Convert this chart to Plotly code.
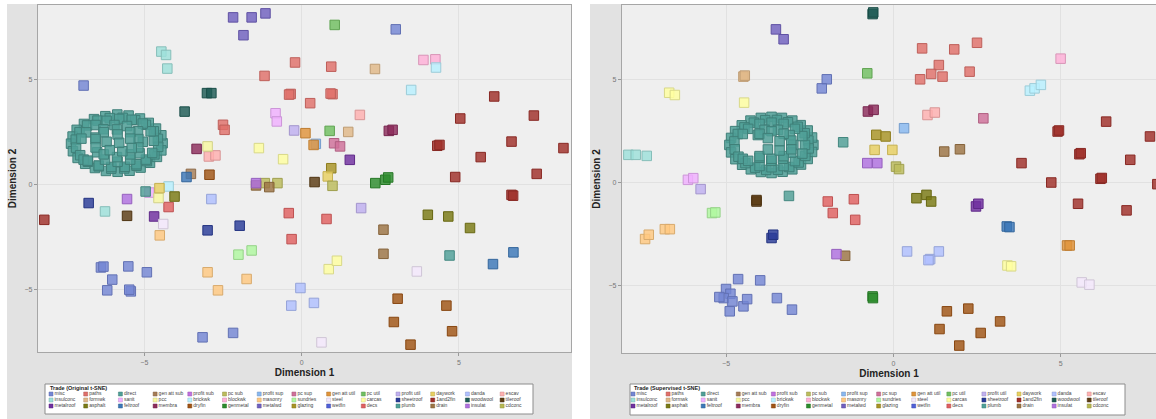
import plotly.graph_objects as go

W, H = 1156, 419

# ---------------- categories (legend order: 3 rows x 14 columns) ----------------
trades = [
    "misc", "paths", "direct", "gen att sub", "profit sub", "pc sub", "profit sup",
    "pc sup", "gen att util", "pc util", "profit util", "daywork", "danda", "escav",
    "insulconc", "formwk", "sanit", "pcc", "brickwk", "blockwk", "masonry",
    "sundries", "steel", "carcas", "sheetroof", "1and2fin", "woodwool", "tileroof",
    "metalroof", "asphalt", "feltroof", "membra", "dryfin", "genmetal", "metalwd",
    "glazing", "wetfin", "decs", "plumb", "drain", "insulat", "cdconc",
]
trade_colors = [
    "#7486d4", "#e0706a", "#4f9f96", "#a57c55", "#c070e0", "#bcbc5c", "#88b8f0",
    "#d0709a", "#e0943a", "#70c060", "#c0b0f0", "#e8d060", "#b0c0ff", "#ffb0b0",
    "#9ee0da", "#e0b888", "#f0b0ff", "#f8f8a0", "#b8f0ff", "#ffb0d8", "#ffc880",
    "#b0f8a0", "#f4e8fc", "#ffffa0", "#2a3c98", "#a0302a", "#1e5c55", "#5c3c14",
    "#7030a0", "#7a7a14", "#3c78b8", "#8c2c5c", "#a05414", "#2c8c2c", "#7060c0",
    "#a89424", "#5060d8", "#e06060", "#4fa098", "#9c7444", "#b070e0", "#b8b850",
]

# ---------------- Original t-SNE ----------------
orig_groups = [
    "metalwd", "pc util", "misc", "insulconc", "paths", "decs", "formwk", "blockwk",
    "brickwk", "woodwool", "1and2fin", "sanit", "escav", "profit util", "profit sup",
    "gen att util", "membra", "pc sup", "metalroof", "pcc", "carcas", "glazing",
    "daywork", "pc sub", "gen att sub", "feltroof", "dryfin", "tileroof", "genmetal",
    "drain", "insulat", "direct", "asphalt", "danda", "sheetroof", "steel", "masonry",
    "sundries", "plumb",
]
orig_x = [
    [-2.18, -1.59, -1.15, -1.85],
    [1.05, 0.89],
    [2.99, -6.93, -6.38, -5.51, -4.92, -6.02, -6.18, -5.43, -3.15, -2.18, -6.30, -5.48],
    [-4.46, -4.31, -4.27, -6.25],
    [-0.21, 0.94, -1.18, -0.35, 0.98, 0.27, -2.50, -2.45, 0.92, -0.40],
    [-4.23, -0.41, 0.79, -0.32],
    [2.33, 1.48],
    [3.87, 4.25],
    [4.27, 3.48, -4.23],
    [-3.01, -2.87, -3.72],
    [6.12, 5.04, 7.38, 4.31, 6.67, 5.69, 8.32, 7.47, 4.88, 6.67, -8.18, 4.38, 6.72],
    [-0.83, -0.79, -4.84],
    [1.85, -2.95, -2.74],
    [-0.24, 1.89],
    [0.45],
    [0.12, 0.38],
    [2.77, 2.89, -3.34],
    [1.03, 1.22],
    [1.53, -4.69],
    [-2.99, -4.55],
    [-1.36, -0.59, 0.86, 1.12],
    [0.94],
    [0.83, -4.52],
    [0.98, -1.17, -0.77],
    [-3.52],
    [-3.66, 6.08, 6.73],
    [-2.93, 3.05, 4.60, 2.93, 4.78, 3.46],
    [0.41, -5.55],
    [2.34, 2.66, 2.75],
    [-1.45, -1.03, 2.60, 2.60],
    [-1.45, -5.55],
    [-4.96],
    [-4.04, 4.01, 4.66, 5.35],
    [-2.87, -0.04, -0.33, 0.39],
    [-6.77, -2.99, -1.97],
    [-4.40, 3.66, 0.63],
    [-4.51, -2.99, -1.75, -2.66],
    [-2.01, -1.59],
    [4.70],
]
orig_y = [
    [7.98, 7.98, 8.17, 7.13],
    [7.62, 2.57],
    [7.41, 4.73, -3.94, -3.89, -4.17, -4.52, -5.03, -5.08, -7.27, -7.06, -3.90, -5.00],
    [6.35, 6.19, 5.54, -1.27],
    [5.83, 5.63, 5.19, 4.33, 4.32, 3.89, 2.86, 2.62, 4.35, 4.30],
    [-1.06, -1.35, -1.63, -2.59],
    [5.52, 2.52],
    [5.95, 5.98],
    [5.59, 4.52, -0.08],
    [4.37, 4.37, 3.49],
    [4.21, 3.16, 3.30, 1.86, 2.06, 1.32, 1.75, 0.52, 0.37, -0.48, -1.67, 1.90, -0.52],
    [3.41, 3.02, -0.37],
    [3.33, 1.35, 1.40],
    [2.59, -1.11],
    [1.95],
    [2.46, 1.90],
    [2.57, 2.62, 1.71],
    [1.98, 1.83],
    [1.19, -1.51],
    [1.83, -0.63],
    [1.75, 1.22, -4.02, -3.62],
    [0.79],
    [0.40, -0.16],
    [-0.05, 0.08, 0.08],
    [0.52],
    [0.37, -3.78, -3.22],
    [0.48, -5.43, -5.76, -6.54, -6.98, -7.62],
    [0.13, -1.48],
    [0.08, 0.24, 0.35],
    [-0.03, -0.11, -2.14, -3.29],
    [0.08, -0.68],
    [-0.32],
    [-0.56, -1.43, -1.51, -2.06],
    [-0.68, -4.92, -5.76, -5.63],
    [-0.87, -2.17, -1.95],
    [-1.87, -4.13, -7.51],
    [-2.41, -4.17, -4.49, -5.03],
    [-3.33, -3.13],
    [-3.37],
]
# dense "direct" cluster, original t-SNE
orig_cluster_x = [
    -4.42, -4.46, -4.63, -4.86, -5.14, -5.50, -5.86, -6.24, -6.60, -6.92, -7.15, -7.28,
    -7.33, -7.27, -7.12, -6.88, -6.57, -6.22, -5.85, -5.47, -5.12, -4.82, -4.60, -4.46,
    -4.57, -4.70, -4.95, -5.29, -5.69, -6.10, -6.49, -6.82, -7.06, -7.18, -7.17, -7.04,
    -6.79, -6.45, -6.05, -5.64, -5.25, -4.92, -4.68, -4.56,
    -4.70, -4.80, -5.05, -5.40, -5.80, -6.20, -6.55, -6.85, -7.00, -6.93, -6.80, -6.45,
    -6.05, -5.62, -5.25, -4.95, -4.75,
    -5.05, -5.20, -5.55, -5.95, -6.30, -6.55, -6.50, -6.25, -5.85, -5.45, -5.15,
    -5.19, -5.45, -5.87, -6.29, -6.55, -6.55, -6.29, -5.87, -5.45, -5.19,
    -5.45, -5.85, -6.20, -6.10, -5.70, -5.40, -5.80,
]
orig_cluster_y = [
    1.98, 2.36, 2.68, 2.95, 3.16, 3.30, 3.35, 3.27, 3.13, 2.90, 2.62, 2.30,
    1.96, 1.60, 1.28, 1.00, 0.80, 0.66, 0.62, 0.67, 0.82, 1.05, 1.33, 1.64,
    2.19, 2.55, 2.86, 3.08, 3.19, 3.18, 3.06, 2.83, 2.51, 2.15, 1.77, 1.41,
    1.10, 0.88, 0.77, 0.78, 0.91, 1.13, 1.45, 1.81,
    2.10, 2.55, 2.92, 3.10, 3.14, 3.05, 2.85, 2.50, 2.20, 1.20, 1.15, 0.92,
    0.85, 0.86, 0.98, 1.20, 1.52,
    2.05, 2.55, 2.80, 2.85, 2.65, 2.25, 1.55, 1.20, 1.10, 1.20, 1.50,
    2.18, 2.51, 2.64, 2.51, 2.18, 1.78, 1.45, 1.32, 1.45, 1.78,
    2.20, 2.40, 2.05, 1.65, 1.60, 1.75, 2.00,
]

# ---------------- Supervised t-SNE ----------------
sup_groups = [
    "woodwool", "metalwd", "paths", "decs", "formwk", "misc", "pc util", "carcas",
    "blockwk", "brickwk", "membra", "escav", "pc sup", "profit sup", "glazing",
    "direct", "daywork", "drain", "insulat", "pc sub", "insulconc", "sanit",
    "profit util", "1and2fin", "tileroof", "sundries", "asphalt", "metalroof",
    "masonry", "sheetroof", "feltroof", "danda", "gen att util", "steel", "genmetal",
    "dryfin",
]
sup_x = [
    [-0.62, -0.60],
    [-3.51, -3.28],
    [0.86, 1.82, 2.50, 1.36, 1.13, 1.47, 0.80, 2.28],
    [-1.96, -1.18, -1.81, -1.14],
    [-4.48, -4.44],
    [-1.99, -2.14, -4.64, -3.98, -5.00, -4.87, -5.07, -5.20, -4.81, -4.89, -4.48, -4.37, -3.48, -3.03],
    [-0.78],
    [-6.70, -6.53, -4.46, 3.41, 3.52],
    [5.00],
    [4.08, 4.22, 4.41],
    [-0.76, -0.59],
    [1.02, 1.24],
    [2.69],
    [0.32],
    [-0.51, -0.23],
    [-1.50, -3.12],
    [-0.56, -0.03],
    [1.52, 1.99, -1.44],
    [-0.78, -0.48, -1.70],
    [0.08, 0.17],
    [-7.92, -7.70, -7.37],
    [-6.14, -5.98],
    [-5.76],
    [4.91, 6.36, 7.67, 5.56, 7.08, 3.83, 4.72, 6.19, 7.89, 5.52, 6.97, 4.95, 5.60, 6.23],
    [-4.09, -4.09],
    [-5.42, -5.32],
    [0.69, 0.99, 1.13],
    [2.47, 2.54],
    [-7.42, -7.31, -6.83, -6.68],
    [-3.64, -3.59],
    [3.39, 3.47],
    [0.41, 1.10, 1.36, 1.05],
    [5.19, 5.27],
    [5.63, 5.86],
    [-0.62, -0.61],
    [1.60, 2.24, 3.19, 1.38, 2.61, 1.97],
]
sup_y = [
    [8.16, 8.24],
    [7.42, 6.94],
    [6.50, 6.45, 6.77, 5.69, 5.26, 5.13, 5.00, 5.37],
    [-0.92, -0.81, -1.48, -1.81],
    [5.13, 5.18],
    [5.00, 4.56, -4.68, -4.74, -5.16, -5.39, -5.60, -5.55, -5.76, -6.24, -6.00, -5.65, -5.60, -6.16],
    [5.29],
    [4.35, 4.24, 3.87, -4.02, -4.06],
    [6.00],
    [4.45, 4.56, 4.73],
    [3.44, 3.52],
    [3.27, 3.39],
    [3.11],
    [2.63],
    [2.31, 2.23],
    [1.95, -0.65],
    [1.58, 1.58],
    [1.50, 1.61, -3.55],
    [0.94, 0.94, -3.47],
    [0.77, 0.65],
    [1.34, 1.34, 1.29],
    [0.13, 0.21],
    [-0.32],
    [2.47, 2.95, 2.23, 1.37, 1.10, 0.94, 0.00, 0.18, -0.08, -1.03, -1.35, 2.52, 1.42, 0.22],
    [-0.92, -0.85],
    [-1.48, -1.45],
    [-0.76, -0.60, -0.92],
    [-1.16, -1.03],
    [-2.74, -2.53, -2.26, -2.26],
    [-2.69, -2.53],
    [-2.13, -2.16],
    [-3.34, -3.71, -3.34, -3.76],
    [-3.05, -3.05],
    [-4.84, -4.95],
    [-5.52, -5.60],
    [-6.24, -6.11, -6.73, -7.10, -7.29, -7.90],
]
sup_cluster_x = [
    -2.39, -2.43, -2.56, -2.77, -3.02, -3.33, -3.64, -3.96, -4.27, -4.53, -4.73, -4.85,
    -4.90, -4.85, -4.72, -4.52, -4.26, -3.96, -3.64, -3.31, -3.02, -2.76, -2.56, -2.43,
    -2.54, -2.65, -2.86, -3.15, -3.48, -3.83, -4.17, -4.45, -4.65, -4.75, -4.74, -4.63,
    -4.42, -4.13, -3.80, -3.45, -3.11, -2.83, -2.63, -2.53,
    -2.64, -2.72, -2.94, -3.28, -3.64, -4.00, -4.34, -4.50, -4.50, -4.34, -4.00, -3.64,
    -3.28, -2.94, -2.72,
    -2.99, -3.10, -3.45, -3.85, -4.05, -4.00, -3.65, -3.30, -3.05,
    -3.05, -3.28, -3.64, -4.00, -3.28, -3.64, -4.00, -3.05,
    -3.40, -3.75, -3.75, -3.40,
]
sup_cluster_y = [
    1.82, 2.18, 2.52, 2.78, 3.00, 3.13, 3.18, 3.13, 3.00, 2.77, 2.49, 2.16,
    1.82, 1.46, 1.13, 0.86, 0.64, 0.51, 0.46, 0.52, 0.64, 0.87, 1.14, 1.48,
    2.03, 2.39, 2.70, 2.92, 3.03, 3.02, 2.90, 2.67, 2.35, 1.99, 1.61, 1.25,
    0.94, 0.72, 0.61, 0.62, 0.75, 0.97, 1.29, 1.65,
    1.82, 2.25, 2.60, 2.84, 2.90, 2.84, 2.60, 2.35, 1.15, 1.05, 0.80, 0.74,
    0.80, 1.04, 1.40,
    1.82, 2.30, 2.55, 2.55, 2.30, 1.20, 1.05, 1.15, 1.45,
    2.03, 2.36, 2.49, 2.36, 1.28, 1.15, 1.28, 1.61,
    2.00, 2.15, 1.60, 1.55,
]

color_of = dict(zip(trades, trade_colors))


def rgba(hexc, a):
    h = hexc.lstrip("#")
    r, g, b = int(h[0:2], 16), int(h[2:4], 16), int(h[4:6], 16)
    return f"rgba({r},{g},{b},{a})"


def darker(hexc, f=0.8):
    h = hexc.lstrip("#")
    r, g, b = (int(h[i:i + 2], 16) for i in (0, 2, 4))
    return f"rgb({int(r * f)},{int(g * f)},{int(b * f)})"


fig = go.Figure()


def add_points(groups, xs, ys, cx, cy, xa, ya):
    c = color_of["direct"]
    fig.add_trace(go.Scatter(
        x=cx, y=cy, mode="markers", xaxis=xa, yaxis=ya, showlegend=False,
        name="direct", hoverinfo="x+y+name",
        marker=dict(symbol="square", size=9.5, color=rgba(c, 0.85),
                    line=dict(color=darker(c, 0.8), width=1)),
    ))
    for g, gx, gy in zip(groups, xs, ys):
        c = color_of[g]
        fig.add_trace(go.Scatter(
            x=gx, y=gy, mode="markers", xaxis=xa, yaxis=ya, showlegend=False,
            name=g, hoverinfo="x+y+name",
            marker=dict(symbol="square", size=9.5, color=rgba(c, 0.82),
                        line=dict(color=darker(c, 0.85), width=1)),
        ))


add_points(orig_groups, orig_x, orig_y, orig_cluster_x, orig_cluster_y, "x", "y")
add_points(sup_groups, sup_x, sup_y, sup_cluster_x, sup_cluster_y, "x2", "y2")

# legend grids drawn as scatter on hidden axes
ncol = 14
leg_col = [i % ncol for i in range(len(trades))]
leg_row = [i // ncol for i in range(len(trades))]
for xa, ya in (("x3", "y3"), ("x4", "y4")):
    fig.add_trace(go.Scatter(
        x=leg_col, y=leg_row, mode="markers+text", xaxis=xa, yaxis=ya,
        text=trades, textposition="middle right", showlegend=False, hoverinfo="text",
        textfont=dict(family="Liberation Sans, Arial, sans-serif", size=5, color="#444"),
        marker=dict(symbol="square", size=4, color=trade_colors,
                    line=dict(color=[darker(c, 0.8) for c in trade_colors], width=0.5)),
    ))

FONT = "Liberation Sans, Arial, sans-serif"


def dom_x(a, b):
    return [a / W, b / W]


def dom_y(top, bottom):
    return [1 - bottom / H, 1 - top / H]


axis_common = dict(
    tickvals=[-5, 0, 5], ticks="outside", ticklen=3, tickcolor="#999",
    tickfont=dict(family=FONT, size=7, color="#777"),
    showgrid=True, gridcolor="#e1e1e1", gridwidth=1, zeroline=False,
    showline=True, linecolor="#a6a6a6", linewidth=1.2,
)
title_font = dict(family=FONT, size=10, color="#222")

layout = dict(
    width=W, height=H, margin=dict(l=0, r=0, t=0, b=0),
    paper_bgcolor="#e2e2e2", plot_bgcolor="#efefef",
    xaxis=dict(domain=dom_x(38, 571), range=[-8.38, 8.56], mirror=True,
               title=dict(text="<b>Dimension 1</b>", font=title_font, standoff=4), **axis_common),
    yaxis=dict(domain=dom_y(5, 352), range=[-7.97, 8.57], mirror=True,
               title=dict(text="<b>Dimension 2</b>", font=title_font, standoff=6), **axis_common),
    xaxis2=dict(domain=dom_x(622, 1156), range=[-8.11, 7.85], mirror=True, anchor="y2",
                title=dict(text="<b>Dimension 1</b>", font=title_font, standoff=4), **axis_common),
    yaxis2=dict(domain=dom_y(5, 353), range=[-8.26, 8.6], anchor="x2",
                title=dict(text="<b>Dimension 2</b>", font=title_font, standoff=6), **axis_common),
    xaxis3=dict(domain=dom_x(45, 533), range=[-0.173, 13.89], visible=False, anchor="y3"),
    yaxis3=dict(domain=dom_y(384, 414), range=[3.333, -1.667], visible=False, anchor="x3"),
    xaxis4=dict(domain=dom_x(630, 1125), range=[-0.085, 14.02], visible=False, anchor="y4"),
    yaxis4=dict(domain=dom_y(384, 415), range=[3.5, -1.667], visible=False, anchor="x4"),
    showlegend=False,
)
fig.update_layout(**layout)

shapes = [
    # white strips framing the two grey panels
    dict(type="rect", xref="paper", yref="paper", x0=0, x1=7 / W, y0=0, y1=1,
         fillcolor="white", line=dict(width=0), layer="below"),
    dict(type="rect", xref="paper", yref="paper", x0=0, x1=1, y0=1 - 4 / H, y1=1,
         fillcolor="white", line=dict(width=0), layer="below"),
    dict(type="rect", xref="paper", yref="paper", x0=572 / W, x1=590 / W, y0=0, y1=1,
         fillcolor="white", line=dict(width=0), layer="below"),
]
for xa, ya in (("x3", "y3"), ("x4", "y4")):
    shapes.append(dict(type="rect", xref=f"{xa} domain", yref=f"{ya} domain",
                       x0=0, x1=1, y0=0, y1=1, fillcolor="white",
                       line=dict(color="#8c8c8c", width=1), layer="below"))
fig.update_layout(shapes=shapes)

fig.add_annotation(xref="x3", yref="y3", x=-0.09, y=-1, text="<b>Trade (Original t-SNE)</b>",
                   showarrow=False, xanchor="left", yanchor="middle",
                   font=dict(family=FONT, size=5.5, color="#222"))
fig.add_annotation(xref="x4", yref="y4", x=-0.02, y=-1, text="<b>Trade (Supervised t-SNE)</b>",
                   showarrow=False, xanchor="left", yanchor="middle",
                   font=dict(family=FONT, size=5.5, color="#222"))

fig.write_html(
    "out.html",
    config={"displayModeBar": False},
    post_script="document.body.style.margin='0px';document.body.style.overflow='hidden';",
)
